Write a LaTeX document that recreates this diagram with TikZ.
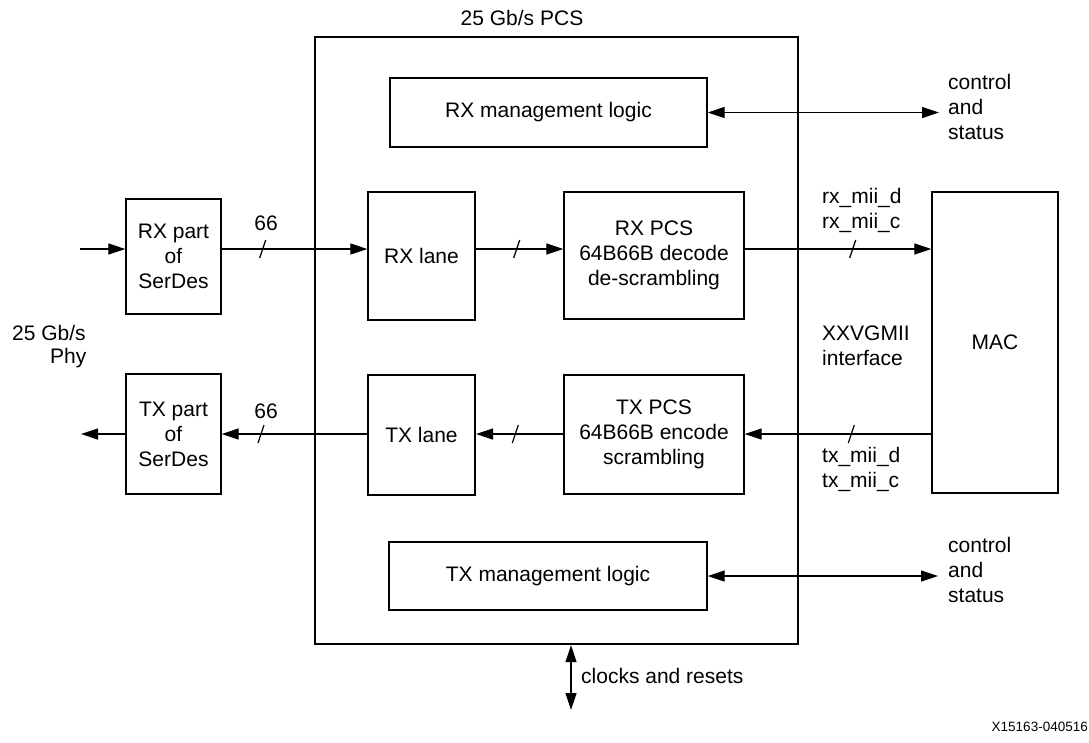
\documentclass[tikz,border=0pt]{standalone}
\usepackage{fontspec}
\setmainfont{Liberation Sans}
\usetikzlibrary{arrows.meta,decorations.markings}

\begin{document}
\begin{tikzpicture}[x=1pt,y=-1pt,
  every node/.style={font=\fontsize{21}{25}\selectfont, inner sep=0pt},
  blk/.style={draw, line width=1.4pt, align=center},
  tip/.tip={Triangle[length=17pt,width=11pt]},
  arr/.style={line width=1.2pt, -tip},
  darr/.style={line width=1.2pt, tip-tip},
  bus/.style={postaction={decorate, decoration={markings,
      mark=at position #1 with {\draw[-, line width=1.2pt] (-3pt,-9pt) -- (3pt,9pt);}}}},
  lbl/.style={anchor=west, align=left}]

\useasboundingbox (0,0) rectangle (1089,742);

% PCS block and its title
\node (title) at (522,18) {25 Gb/s PCS};
\node[draw, line width=2.4pt, minimum width=483pt, minimum height=607pt] (pcs) at (556.5,340.5) {};

% functional blocks
\node[blk, minimum width=317pt, minimum height=69pt] (rxmgmt) at (548.5,112.5) {RX management logic};
\node[blk, minimum width=318pt, minimum height=68pt] (txmgmt) at (548,576) {TX management logic};
\node[blk, minimum width=95pt, minimum height=115pt] (rxser) at (173.5,256.5) {RX part\\of\\SerDes};
\node[blk, minimum width=95pt, minimum height=120pt] (txser) at (173.5,434) {TX part\\of\\SerDes};
\node[blk, minimum width=107pt, minimum height=128pt] (rxlane) at (421.5,256) {RX lane};
\node[blk, line width=2pt, minimum width=107pt, minimum height=120pt] (txlane) at (421.5,435) {TX lane};
\node[blk, minimum width=180pt, minimum height=127pt] (rxpcs) at (654,255.5) {RX PCS\\64B66B decode\\de-scrambling};
\node[blk, minimum width=180pt, minimum height=119pt] (txpcs) at (654,434.5) {TX PCS\\64B66B encode\\scrambling};
\node[blk, minimum width=126pt, minimum height=301pt] (mac) at (995,342.5) {MAC};

% signal levels and free ends
\coordinate (rxy) at (0,249);
\coordinate (txy) at (0,434);
\coordinate (rxin) at (80,249);
\coordinate (txout) at (81,434);
\coordinate (ctlrx) at (939,112.5);
\coordinate (ctltx) at (938,576);
\coordinate (clk) at (571,710);

% receive path
\draw[arr] (rxin) -- (rxin -| rxser.west);
\draw[arr, bus=41pt] (rxser.east |- rxy) -- (rxlane.west |- rxy);
\draw[arr, bus=41pt] (rxlane.east |- rxy) -- (rxpcs.west |- rxy);
\draw[arr, bus=108pt] (rxpcs.east |- rxy) -- (mac.west |- rxy);

% transmit path
\draw[arr, bus=80pt] (mac.west |- txy) -- (txpcs.east |- txy);
\draw[arr, bus=48pt] (txpcs.west |- txy) -- (txlane.east |- txy);
\draw[arr, bus=106pt] (txlane.west |- txy) -- (txser.east |- txy);
\draw[arr] (txser.west |- txy) -- (txout);

% management and clocking
\draw[darr] (rxmgmt.east) -- (ctlrx);
\draw[darr] (txmgmt.east) -- (ctltx);
\draw[darr] (pcs.south -| clk) -- (clk);

% labels
\node (n66a) at (266,223) {66};
\node (n66b) at (266,411) {66};
\node[lbl] (rxmii) at (822,210.5) {rx\_mii\_d\\rx\_mii\_c};
\node[lbl] (xxv) at (822,345.5) {XXVGMII\\interface};
\node[lbl] (txmii) at (822,469) {tx\_mii\_d\\tx\_mii\_c};
\node[lbl] (ctl1) at (948,107) {control\\and\\status};
\node[lbl] (ctl2) at (948,569.5) {control\\and\\status};
\node[anchor=west] (clklbl) at (581,676) {clocks and resets};
\node[anchor=west] (phy1) at (12,333) {25 Gb/s};
\node[anchor=west] (phy2) at (50,358) {Phy};
\node[anchor=east, font=\fontsize{13.5}{16}\selectfont] (fig) at (1088,727) {X15163-040516};
\end{tikzpicture}
\end{document}
